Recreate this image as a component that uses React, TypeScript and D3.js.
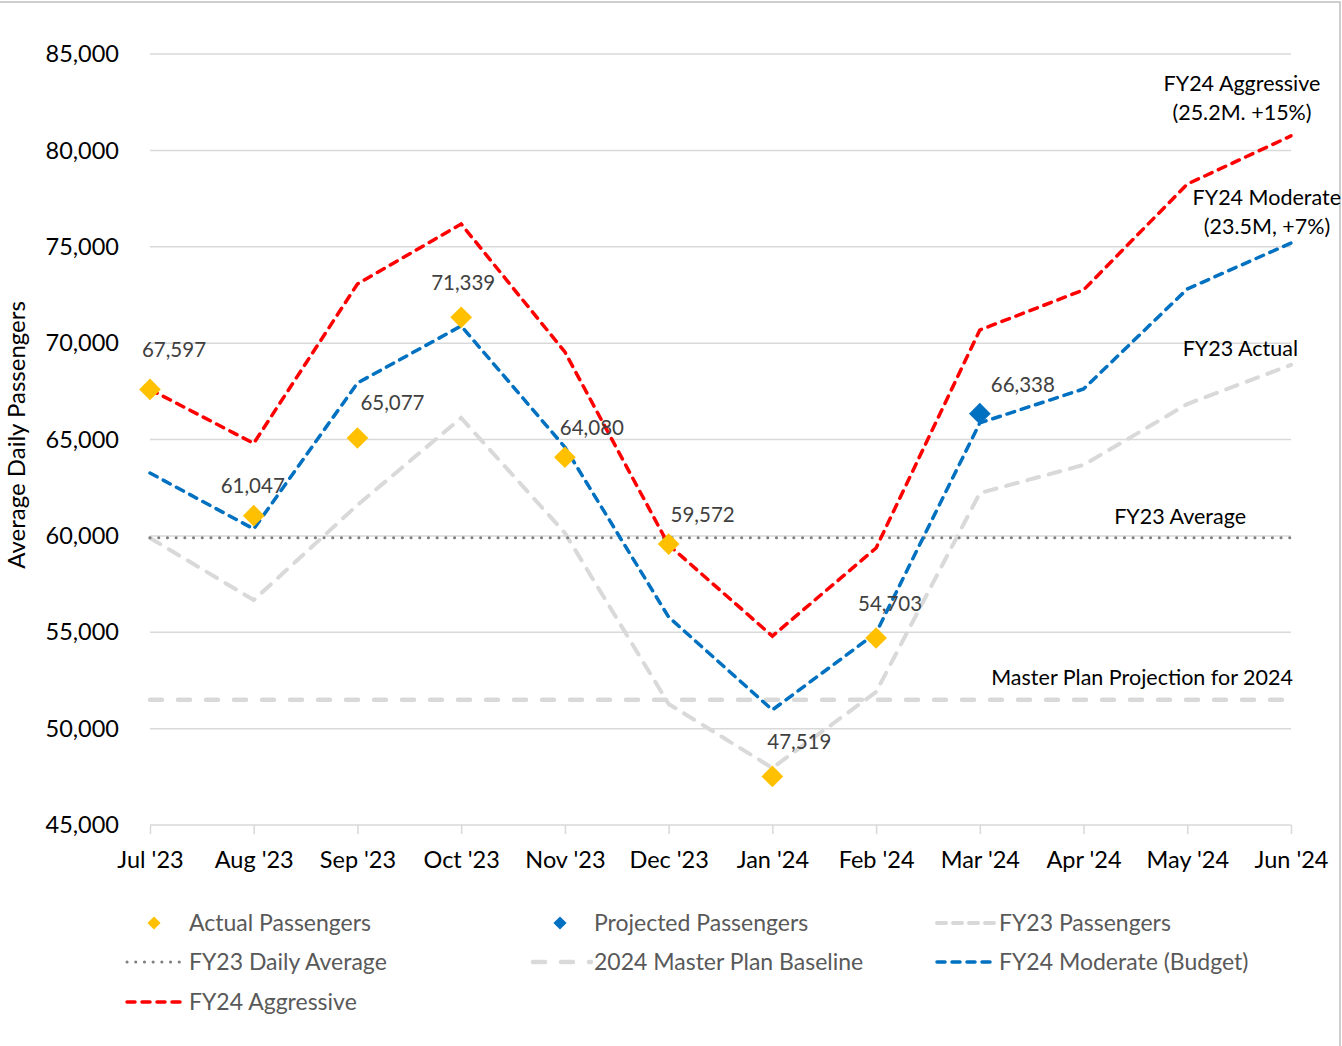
import React, { useEffect, useRef } from 'react';
import * as d3 from 'd3';

const months = ["Jul '23", "Aug '23", "Sep '23", "Oct '23", "Nov '23", "Dec '23", "Jan '24", "Feb '24", "Mar '24", "Apr '24", "May '24", "Jun '24"];
const actualPassengers = [67597, 61047, 65077, 71339, 64080, 59572, 47519, 54703];
const projectedMonth = "Mar '24";
const projectedPassengers = 66338;
const fy23Passengers = [59890, 56670, 61600, 66120, 60150, 51280, 47960, 51900, 62220, 63680, 66840, 68870];
const fy24Moderate = [63260, 60360, 67930, 70890, 64600, 55790, 50970, 54960, 65860, 67620, 72810, 75190];
const fy24Aggressive = [67597, 64800, 73070, 76180, 69540, 59530, 54800, 59370, 70680, 72760, 78250, 80750];
const fy23Average = 59900;
const masterPlan = 51500;
const yTicks = [45000, 50000, 55000, 60000, 65000, 70000, 75000, 80000, 85000];

// label offsets (layout only)
const actualLabelOffsets: [number, number][] = [[24, -40], [-1, -30], [35, -35], [2, -34], [27, -29], [34, -29], [27, -35], [14, -34]];

const FONT = 'Lato, "Noto Sans", sans-serif';

export default function App() {
  const ref = useRef<SVGSVGElement>(null);

  useEffect(() => {
    const svg = d3.select(ref.current);
    svg.selectAll('*').remove();

    const x = d3.scalePoint<string>().domain(months).range([150, 1291]);
    const y = d3.scaleLinear().domain([45000, 85000]).range([825, 54]);

    // outer border
    svg.append('rect').attr('x', -5).attr('y', 2).attr('width', 1345).attr('height', 1060)
      .attr('fill', 'none').attr('stroke', '#bfbfbf').attr('stroke-width', 1.5);

    // gridlines
    svg.append('g').selectAll('line').data(yTicks.slice(1)).join('line')
      .attr('x1', 150).attr('x2', 1291)
      .attr('y1', d => y(d)).attr('y2', d => y(d))
      .attr('stroke', '#d9d9d9').attr('stroke-width', 1.5);

    // y tick labels
    svg.append('g').selectAll('text').data(yTicks).join('text')
      .attr('x', 119).attr('y', d => y(d)).attr('dy', '0.35em')
      .attr('text-anchor', 'end').attr('font-family', FONT).attr('font-size', 23.5)
      .attr('fill', '#000').text(d => d3.format(',')(d));

    // x axis
    const xAxis = svg.append('g').attr('transform', `translate(0,${y(45000)})`)
      .call(d3.axisBottom(x).tickSize(9).tickPadding(17).tickSizeOuter(0));
    xAxis.select('.domain').attr('stroke', '#d9d9d9').attr('stroke-width', 1.5).attr('d', 'M150,0H1291');
    xAxis.selectAll('.tick line').attr('stroke', '#d9d9d9').attr('stroke-width', 1.5);
    xAxis.selectAll('.tick text').attr('font-family', FONT).attr('font-size', 23.5).attr('fill', '#000');

    // y axis title
    svg.append('text').attr('transform', 'translate(25,435) rotate(-90)')
      .attr('text-anchor', 'middle').attr('font-family', FONT).attr('font-size', 24)
      .attr('fill', '#000').text('Average Daily Passengers');

    const line = d3.line<number>().x((_, i) => x(months[i]) as number).y(d => y(d));

    // master plan baseline
    svg.append('line').attr('x1', 150).attr('x2', 1291)
      .attr('y1', y(masterPlan)).attr('y2', y(masterPlan))
      .attr('stroke', '#d9d9d9').attr('stroke-width', 4.5).attr('stroke-linecap', 'round')
      .attr('stroke-dasharray', '12 16');

    // FY23 passengers
    svg.append('path').datum(fy23Passengers).attr('d', line)
      .attr('fill', 'none').attr('stroke', '#d9d9d9').attr('stroke-width', 4)
      .attr('stroke-linecap', 'round').attr('stroke-dasharray', '12 10');

    // FY23 average
    svg.append('line').attr('x1', 150).attr('x2', 1291)
      .attr('y1', y(fy23Average)).attr('y2', y(fy23Average))
      .attr('stroke', '#7f7f7f').attr('stroke-width', 3).attr('stroke-linecap', 'round')
      .attr('stroke-dasharray', '0.1 8.6');

    // FY24 moderate
    svg.append('path').datum(fy24Moderate).attr('d', line)
      .attr('fill', 'none').attr('stroke', '#0070c0').attr('stroke-width', 3.5)
      .attr('stroke-linecap', 'round').attr('stroke-dasharray', '8 7');

    // FY24 aggressive
    svg.append('path').datum(fy24Aggressive).attr('d', line)
      .attr('fill', 'none').attr('stroke', '#ff0000').attr('stroke-width', 3.5)
      .attr('stroke-linecap', 'round').attr('stroke-dasharray', '8 7');

    const diamond = d3.symbol().type(d3.symbolDiamond2).size(300);

    // actual passengers
    svg.append('g').selectAll('path').data(actualPassengers).join('path')
      .attr('d', diamond)
      .attr('transform', (d, i) => `translate(${x(months[i])},${y(d)})`)
      .attr('fill', '#ffc000');

    svg.append('g').selectAll('text').data(actualPassengers).join('text')
      .attr('x', (d, i) => (x(months[i]) as number) + actualLabelOffsets[i][0])
      .attr('y', (d, i) => y(d) + actualLabelOffsets[i][1])
      .attr('dy', '0.35em').attr('text-anchor', 'middle')
      .attr('font-family', FONT).attr('font-size', 20.5).attr('fill', '#404040')
      .text(d => d3.format(',')(d));

    // projected passengers
    svg.append('path').attr('d', diamond)
      .attr('transform', `translate(${x(projectedMonth)},${y(projectedPassengers)})`)
      .attr('fill', '#0070c0');
    svg.append('text')
      .attr('x', (x(projectedMonth) as number) + 43).attr('y', y(projectedPassengers) - 29)
      .attr('dy', '0.35em').attr('text-anchor', 'middle')
      .attr('font-family', FONT).attr('font-size', 20.5).attr('fill', '#404040')
      .text(d3.format(',')(projectedPassengers));

    // annotations
    const ann = (txt: string, ax: number, ay: number, anchor: string) =>
      svg.append('text').attr('x', ax).attr('y', ay).attr('dy', '0.35em')
        .attr('text-anchor', anchor).attr('font-family', FONT).attr('font-size', 21.5)
        .attr('fill', '#000').text(txt);
    ann('FY24 Aggressive', 1242, 83, 'middle');
    ann('(25.2M. +15%)', 1242, 112, 'middle');
    ann('FY24 Moderate', 1341, 197, 'end');
    ann('(23.5M, +7%)', 1267, 226, 'middle');
    ann('FY23 Actual', 1298, 348, 'end');
    ann('FY23 Average', 1246, 516, 'end');
    ann('Master Plan Projection for 2024', 1293, 677, 'end');

    // legend
    const leg = svg.append('g').attr('font-family', FONT).attr('font-size', 23).attr('fill', '#595959');
    const legDiamond = d3.symbol().type(d3.symbolDiamond2).size(110);
    const legendText = (txt: string, lx: number, ly: number) =>
      leg.append('text').attr('x', lx).attr('y', ly).attr('dy', '0.35em').text(txt);
    const legendLine = (lx: number, ly: number, color: string, width: number, dash: string) =>
      leg.append('line').attr('x1', lx).attr('x2', lx + 58).attr('y1', ly).attr('y2', ly)
        .attr('stroke', color).attr('stroke-width', width).attr('stroke-linecap', 'round')
        .attr('stroke-dasharray', dash);

    leg.append('path').attr('d', legDiamond).attr('transform', 'translate(154,923)').attr('fill', '#ffc000');
    legendText('Actual Passengers', 189, 923);
    leg.append('path').attr('d', legDiamond).attr('transform', 'translate(560,923)').attr('fill', '#0070c0');
    legendText('Projected Passengers', 594, 923);
    legendLine(937, 923, '#d9d9d9', 4, '9 7');
    legendText('FY23 Passengers', 999, 923);

    legendLine(127, 962, '#7f7f7f', 3, '0.1 8.6');
    legendText('FY23 Daily Average', 189, 962);
    legendLine(533, 962, '#d9d9d9', 4.5, '12 16');
    legendText('2024 Master Plan Baseline', 594, 962);
    legendLine(937, 962, '#0070c0', 3.5, '8 7');
    legendText('FY24 Moderate (Budget)', 999, 962);

    legendLine(127, 1002, '#ff0000', 3.5, '8 7');
    legendText('FY24 Aggressive', 189, 1002);
  }, []);

  return (
    <svg ref={ref} width={1342} height={1046}
      style={{ position: 'absolute', left: 0, top: 0, background: '#fff' }} />
  );
}
